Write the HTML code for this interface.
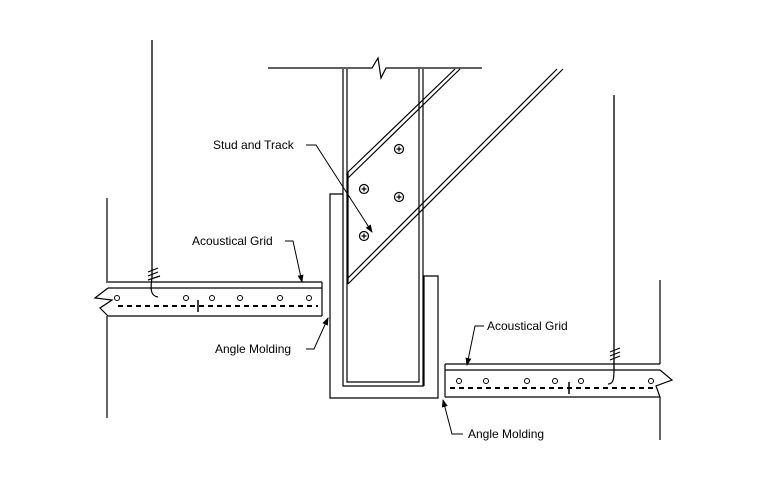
<!DOCTYPE html>
<html><head><style>
html,body{margin:0;padding:0;background:#fff}
svg{display:block}
text{font-family:"Liberation Sans",sans-serif;font-size:12px;fill:#000}
</style></head><body>
<svg width="766" height="499" viewBox="0 0 766 499" xmlns="http://www.w3.org/2000/svg">
<defs>
<marker id="a" markerWidth="8" markerHeight="8" refX="7" refY="4" orient="auto" markerUnits="userSpaceOnUse">
<path d="M0,1 L8,4 L0,7 Z" fill="#000"/></marker>
<g id="scr"><circle r="4.5" fill="#fff" stroke="#000" stroke-width="1.2"/><path d="M-2.5,0H2.5M0,-2.5V2.5" stroke="#000" stroke-width="1.2"/></g>
</defs>
<g stroke="#000" fill="none" stroke-width="1.2">
<!-- top slab line with break -->
<path d="M268,68 H372 L378,58 L381,78 L386,68 H482"/>
<!-- stud -->
<path d="M343,69 V386 H423 V69"/>
<path d="M347,69 V382 H419 V69"/>
<!-- left angle -->
<path d="M343,194 H330 V398 H438 V276 H424 V386"/>
<!-- brace -->
<path d="M348,172 L455,69 M348,178 L460,69"/>
<path d="M348,278 L557,69 M348,284 L563,69"/>
<path d="M348,172 V284"/>
<!-- walls -->
<path d="M107,198 V283 M107,316 V418"/>
<path d="M660,280 V364 M660,397 V440"/>
<!-- wires -->
<path d="M152,40 V278" stroke="#555" stroke-width="2"/>
<path d="M614,95 V370" stroke="#555" stroke-width="2"/>
<!-- left grid -->
<path d="M322,282 H108 M322,288 H108 M322,316 H108 M322,282 V316"/>
<path d="M108,288 L95,298 L112,300 L100,308 L108,316" fill="#fff"/>
<path d="M118,306 H318" stroke-dasharray="5,4" stroke-width="2"/>
<path d="M198,300 V312" stroke-width="1.5"/>
<path d="M152,278 C150,290 151,296 158,297"/>
<path d="M148,272 L158,268 M148,276 L158,272 M148,280 L160,276" />
<!-- right grid -->
<path d="M445,364 H660 M445,370 H660 M445,397 H660 M445,364 V397"/>
<path d="M660,370 L672,380 L656,386 L660,397" fill="#fff"/>
<path d="M450,388 H655" stroke-dasharray="5,4" stroke-width="2"/>
<path d="M569,382 V394" stroke-width="1.5"/>
<path d="M614,370 C614,380 613,384 608,384"/>
<path d="M610,352 L620,348 M610,356 L620,352 M610,360 L620,356"/>
</g>
<g fill="#fff" stroke="#000" stroke-width="1">
<circle cx="117" cy="298" r="2.5"/><circle cx="186" cy="298" r="2.5"/><circle cx="212" cy="298" r="2.5"/><circle cx="240" cy="298" r="2.5"/><circle cx="280" cy="298" r="2.5"/><circle cx="309" cy="298" r="2.5"/>
<circle cx="459" cy="381" r="2.5"/><circle cx="486" cy="381" r="2.5"/><circle cx="527" cy="381" r="2.5"/><circle cx="555" cy="381" r="2.5"/><circle cx="581" cy="381" r="2.5"/><circle cx="651" cy="381" r="2.5"/>
</g>
<use href="#scr" x="399" y="149"/><use href="#scr" x="364" y="189"/><use href="#scr" x="399" y="197"/><use href="#scr" x="364" y="236"/>
<!-- labels -->
<text x="213" y="149">Stud and Track</text>
<text x="192" y="245">Acoustical Grid</text>
<text x="215" y="353">Angle Molding</text>
<text x="487" y="330">Acoustical Grid</text>
<text x="468" y="438">Angle Molding</text>
<g stroke="#000" fill="none" stroke-width="1">
<path d="M306,145 H316 L372,232" marker-end="url(#a)"/>
<path d="M285,241 H293 L302,282" marker-end="url(#a)"/>
<path d="M306,349 H314 L328,318" marker-end="url(#a)"/>
<path d="M484,326 H475 L467,365" marker-end="url(#a)"/>
<path d="M463,434 H452 L443,400" marker-end="url(#a)"/>
</g>
</svg>
</body></html>
